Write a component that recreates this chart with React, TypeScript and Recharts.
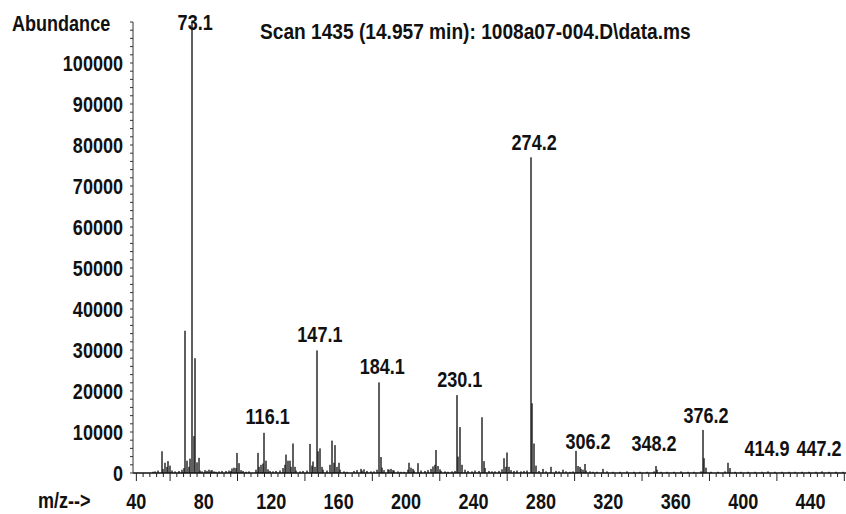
import React from 'react';
import { ComposedChart, Bar, Scatter, XAxis, YAxis } from 'recharts';

// ---- data ----
const mzValues = [
  50, 51, 53, 55, 56, 57, 58, 59, 60, 61, 63, 65, 67, 68, 69, 70, 71, 72, 73, 74, 75, 76, 77, 78, 79,
  81, 82, 83, 84, 85, 86, 87, 89, 91, 93, 95, 96, 97, 98, 99, 100, 101, 102, 103, 105, 107,
  111, 112, 113, 114, 115, 116, 117, 118, 119, 121, 123, 125, 127, 128, 129, 130, 131, 132, 133, 134, 135,
  137, 139, 141, 143, 144, 145, 146, 147, 148, 149, 150, 151, 153, 155, 156, 157, 158, 159, 160, 161,
  163, 165, 169, 171, 173, 174, 175, 177, 179, 181, 183, 184, 185, 186, 187, 189, 190, 191, 192, 193,
  195, 197, 199, 201, 202, 203, 204, 205, 207, 209, 211, 213, 215, 216, 217, 218, 219, 220, 221, 223,
  225, 227, 229, 230, 231, 232, 233, 235, 237, 239, 241, 243, 245, 246, 247, 249, 251, 253, 255, 257,
  258, 259, 260, 261, 262, 264, 266, 268, 270, 272, 274, 275, 276, 277, 279, 281, 283, 286, 289, 291,
  293, 295, 297, 299, 301, 302, 303, 304, 305, 306, 307, 309, 311, 313, 317, 319, 323, 327, 331, 335,
  339, 343, 347, 348, 349, 351, 355, 359, 363, 367, 371, 375, 376, 377, 378, 381, 385, 389, 391, 392,
  395, 399, 403, 407, 411, 415, 419, 423, 427, 431, 435, 439, 443, 447, 451, 455, 459,
];
const abundanceValues = [
  300, 400, 600, 5300, 1000, 2500, 1500, 2900, 1800, 600, 400, 500, 800, 1200, 34700, 3000, 1500, 3500, 110000, 9000, 28000, 2600, 3700, 600, 400,
  700, 500, 800, 600, 700, 400, 300, 400, 500, 500, 600, 500, 1100, 1300, 1200, 4900, 2400, 700, 500, 300, 400,
  800, 4900, 1500, 2000, 2300, 9800, 3000, 900, 500, 400, 500, 600, 1200, 2000, 4500, 3000, 3000, 1500, 7200, 1500, 600,
  400, 500, 600, 7100, 1800, 2800, 1500, 29900, 5300, 6000, 1500, 800, 600, 2000, 7900, 2500, 6800, 1500, 2500, 800,
  400, 300, 500, 700, 1000, 600, 900, 500, 400, 400, 800, 22100, 3900, 1300, 700, 900, 800, 1000, 700, 600,
  400, 300, 300, 800, 2500, 1300, 1000, 600, 2400, 600, 500, 700, 1000, 1600, 2000, 5600, 1700, 900, 500, 400,
  300, 400, 500, 19000, 4000, 11200, 2000, 800, 500, 400, 600, 500, 13600, 2900, 1200, 500, 400, 400, 500, 900,
  3600, 1500, 5000, 1500, 700, 500, 600, 400, 500, 600, 77000, 17000, 7200, 1800, 500, 1000, 400, 1500, 500, 400,
  800, 400, 300, 400, 5400, 1700, 1500, 1000, 800, 2200, 600, 400, 300, 300, 1000, 400, 300, 300, 400, 300,
  300, 300, 400, 1700, 800, 300, 300, 300, 400, 300, 300, 400, 10500, 3600, 1300, 300, 300, 400, 2500, 1200,
  300, 300, 300, 300, 300, 400, 300, 300, 300, 300, 300, 300, 300, 400, 300, 300, 300,
];

const peakLabelTexts = ['73.1', '116.1', '147.1', '184.1', '230.1', '274.2', '306.2', '348.2', '376.2', '414.9', '447.2'];
const peakLabelMz = [73.1, 116.1, 147.1, 184.1, 230.1, 274.2, 306.2, 348.2, 376.2, 414.9, 447.2];
const peakLabelLevels = [108000, 11900, 32000, 24100, 20900, 78800, 5900, 5300, 12300, 4200, 4200];

const xLabelTicks = [40, 80, 120, 160, 200, 240, 280, 320, 360, 400, 440];
const yLabelTicks = [0, 10000, 20000, 30000, 40000, 50000, 60000, 70000, 80000, 90000, 100000];

const titleText = 'Scan 1435 (14.957 min): 1008a07-004.D\\data.ms';
const yAxisTitle = 'Abundance';
const xAxisTitle = 'm/z-->';

// ---- tables for the library ----
const spectrum = mzValues.map((mz, i) => ({ mz, abundance: abundanceValues[i] }));
const peakLabels = peakLabelMz.map((mz, i) => ({ mz, level: peakLabelLevels[i], text: peakLabelTexts[i], idx: i }));
const xMinorTicks = Array.from({ length: 106 }, (_, i) => 40 + i * 4);
const yMinorTicks = Array.from({ length: 56 }, (_, i) => i * 2000);

const FONT = "'Liberation Sans', Arial, sans-serif";
const W = 846;
const H = 514;
const PLOT_LEFT = 133;
const X_DOMAIN: [number, number] = [38, 461];
const PX_PER_MZ = (W - PLOT_LEFT) / (X_DOMAIN[1] - X_DOMAIN[0]);
const SQUEEZE = 0.82;
const LABEL_HALF = 22;
const LABEL_GAP = 8;

const NarrowText = ({ x, y, anchor = 'start', squeeze = SQUEEZE, children }: any) => (
  <g transform={`translate(${x},${y}) scale(${squeeze},1)`}>
    <text x={0} y={0} textAnchor={anchor} fontFamily={FONT} fontWeight="bold" fontSize={22} fill="#111">
      {children}
    </text>
  </g>
);

const XTick = (props: any) => {
  const { x, y, payload } = props;
  const v = payload.value as number;
  const long = v === 40 || (v - 20) % 40 === 0;
  const labeled = xLabelTicks.includes(v);
  return (
    <g>
      <line x1={x} x2={x} y1={y} y2={y + (long ? 8 : 4)} stroke="#222" strokeWidth={1} />
      {labeled && <NarrowText x={x} y={y + 36} anchor="middle">{v}</NarrowText>}
    </g>
  );
};

const YTick = (props: any) => {
  const { x, y, payload } = props;
  const v = payload.value as number;
  const labeled = yLabelTicks.includes(v);
  return (
    <g>
      <line x1={x - 3} x2={x} y1={y} y2={y} stroke="#333" strokeWidth={1} />
      {labeled && <NarrowText x={x - 10} y={y + 8} anchor="end">{v}</NarrowText>}
    </g>
  );
};

// Labels sit centred a little right of their peak; labels near the right edge are
// pushed left so they stay inside the picture and do not touch their neighbour.
const PeakLabel = (props: any) => {
  const { cx, cy, payload } = props;
  const i = payload.idx as number;
  let limit = W - 5 - LABEL_HALF;
  for (let j = peakLabelMz.length - 1; j > i; j--) {
    const otherCx = cx + (peakLabelMz[j] - peakLabelMz[i]) * PX_PER_MZ + 3;
    const placed = Math.min(otherCx, limit);
    limit = Math.min(W - 5 - LABEL_HALF, placed - 2 * LABEL_HALF - LABEL_GAP);
  }
  const x = Math.min(cx + 3, i === peakLabelMz.length - 1 ? W - 5 - LABEL_HALF : Math.max(limit, cx - 10));
  return <NarrowText x={x} y={cy} anchor="middle">{payload.text}</NarrowText>;
};

const PeakLine = (props: any) => {
  const { x, y, width, height } = props;
  if (!height || height <= 0) return null;
  const cx = Math.round(x + width / 2);
  return <rect x={cx - 0.7} y={y} width={1.4} height={height} fill="#1c1c1c" />;
};

export default function App() {
  return (
    <div style={{ position: 'absolute', left: 0, top: 0, width: W, height: H, background: '#fff' }}>
      <ComposedChart
        width={W}
        height={H}
        data={spectrum}
        margin={{ top: 22, right: 0, left: 0, bottom: 0 }}
      >
        <XAxis
          dataKey="mz"
          type="number"
          domain={X_DOMAIN}
          ticks={xMinorTicks}
          interval={0}
          tickSize={0}
          tickMargin={0}
          tick={<XTick />}
          tickLine={false}
          axisLine={{ stroke: '#111', strokeWidth: 1.5 }}
          height={41}
        />
        <YAxis
          type="number"
          domain={[0, 110000]}
          ticks={yMinorTicks}
          interval={0}
          tickSize={0}
          tickMargin={0}
          tick={<YTick />}
          tickLine={false}
          axisLine={{ stroke: '#333', strokeWidth: 1 }}
          width={PLOT_LEFT}
        />
        <Bar dataKey="abundance" fill="#1c1c1c" barSize={1.4} shape={<PeakLine />} isAnimationActive={false} />
        <Scatter data={peakLabels} dataKey="level" shape={<PeakLabel />} isAnimationActive={false} />
      </ComposedChart>
      <svg width={W} height={H} style={{ position: 'absolute', left: 0, top: 0, pointerEvents: 'none' }}>
        <NarrowText x={12} y={31}>{yAxisTitle}</NarrowText>
        <NarrowText x={260} y={39} squeeze={0.87}>{titleText}</NarrowText>
        <NarrowText x={38} y={508}>{xAxisTitle}</NarrowText>
      </svg>
    </div>
  );
}
